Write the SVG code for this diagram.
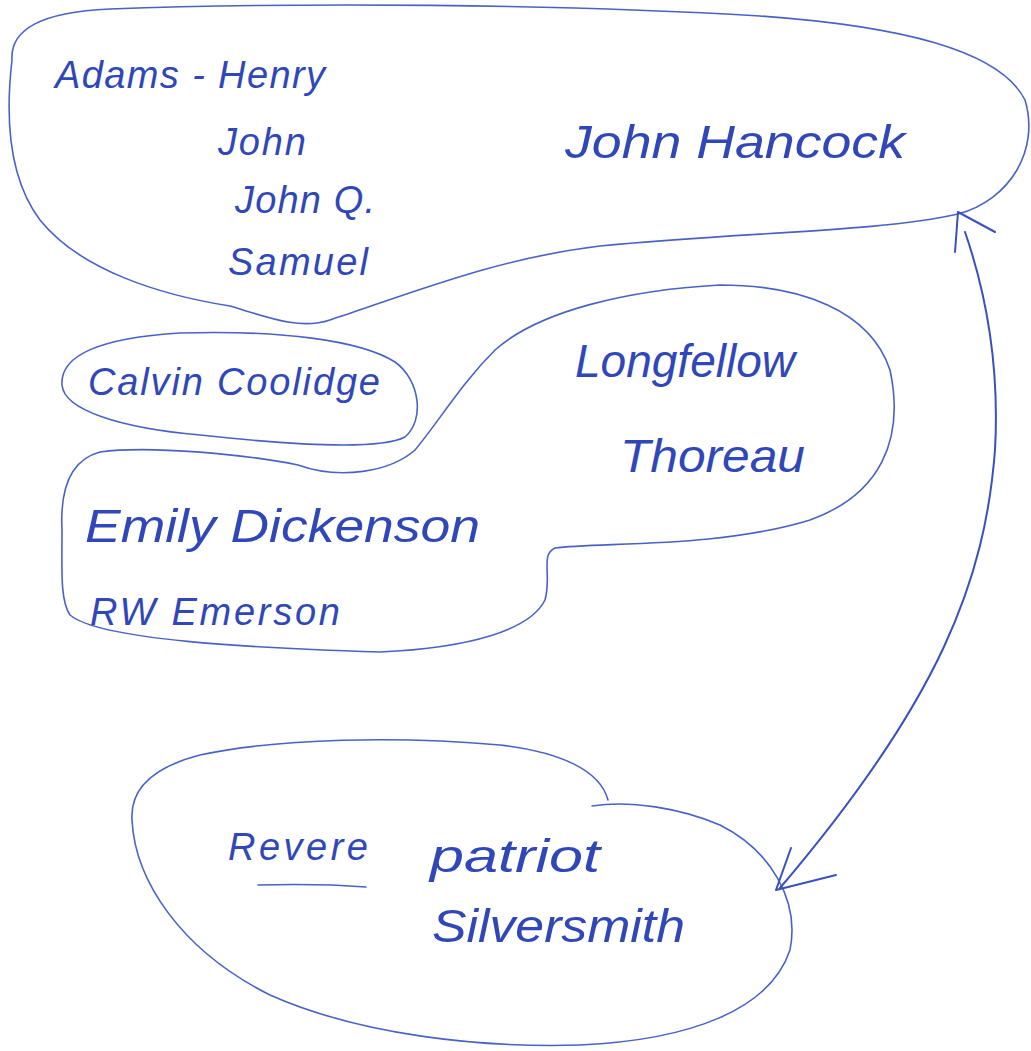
<svg xmlns="http://www.w3.org/2000/svg" width="1031" height="1051" viewBox="0 0 1031 1051">
<style>
.o{fill:none;stroke:#4a62c8;stroke-width:1.6;stroke-linecap:round;stroke-linejoin:round}
.c{fill:none;stroke:#3a50c0;stroke-width:2;stroke-linecap:round;stroke-linejoin:round}
.t{font-family:"Liberation Sans",Arial,sans-serif;font-size:38px;fill:#2f47b8;font-style:italic}
.l{font-size:46px}
</style>
<rect width="1031" height="1051" fill="#fff"/>
<g id="adams">
<path class="o" d="M12,60 C10,30 40,12 110,9 C300,2 560,4 760,16 C900,26 1000,50 1025,100 C1040,150 1010,200 958,214 C880,232 740,232 600,246 C500,258 420,290 330,320 C300,330 270,318 230,306 C160,295 80,270 40,220 C10,180 5,120 12,60"/>
<text class="t" x="55" y="88" textLength="270">Adams - Henry</text>
<text class="t" x="218" y="155" textLength="88">John</text>
<text class="t" x="235" y="213" textLength="140">John Q.</text>
<text class="t" x="228" y="275" textLength="140">Samuel</text>
<text class="t l" x="565" y="158" textLength="340" lengthAdjust="spacingAndGlyphs">John Hancock</text>
</g>
<g id="coolidge">
<path class="o" d="M62,385 C60,355 100,338 180,333 C280,330 360,340 395,362 C420,380 425,420 405,437 C380,450 300,446 200,435 C120,428 64,410 62,385"/>
<text class="t" x="88" y="395" textLength="292">Calvin Coolidge</text>
</g>
<g id="writers">
<path class="o" d="M298,465 C250,455 150,445 100,452 C70,460 60,490 62,530 C62,570 60,600 70,615 C100,640 250,648 380,652 C470,648 530,630 545,600 C552,575 540,555 555,548 C600,542 720,548 810,520 C880,495 905,440 890,370 C870,310 800,285 720,285 C630,290 540,310 495,350 C460,385 440,420 415,450 C390,472 340,480 298,465"/>
<text class="t l" x="575" y="377" textLength="220" lengthAdjust="spacingAndGlyphs">Longfellow</text>
<text class="t l" x="620" y="472" textLength="185" lengthAdjust="spacingAndGlyphs">Thoreau</text>
<text class="t l" x="85" y="542" textLength="395" lengthAdjust="spacingAndGlyphs">Emily Dickenson</text>
<text class="t" x="90" y="625" textLength="250">RW Emerson</text>
</g>
<g id="revere">
<path class="o" d="M608,800 C600,770 560,752 500,745 C400,736 280,738 200,755 C150,768 130,790 132,820 C135,880 180,950 270,995 C360,1035 480,1048 580,1045 C690,1040 770,1010 790,950 C800,900 770,850 720,825 C680,808 630,800 592,806"/>
<path class="o" d="M258,885 C300,884 340,885 366,887"/>
<text class="t" x="228" y="860" textLength="140">Revere</text>
<text class="t l" x="430" y="872" textLength="170" lengthAdjust="spacingAndGlyphs">patriot</text>
<text class="t l" x="432" y="942" textLength="253" lengthAdjust="spacingAndGlyphs">Silversmith</text>
</g>
<g id="connectors">
<path class="c" d="M965,232 C985,290 1000,360 995,450 C985,580 940,700 780,888"/>
<path class="c" d="M955,252 L958,212 L995,232"/>
<path class="c" d="M791,848 L776,890 L836,875"/>
</g>
</svg>
